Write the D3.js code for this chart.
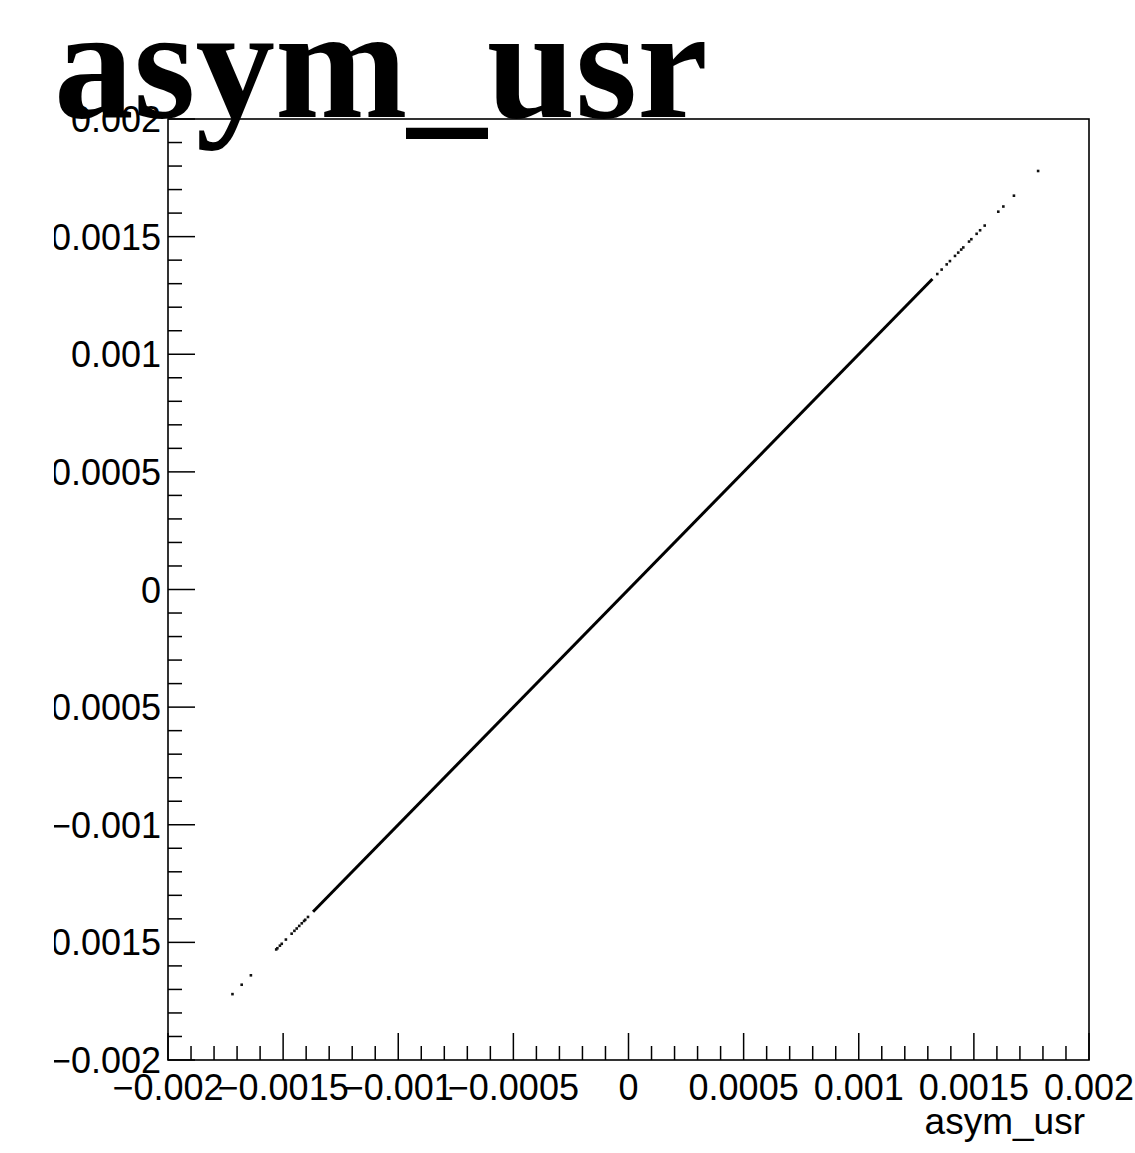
<!DOCTYPE html>
<html><head><meta charset="utf-8">
<script src="https://cdn.jsdelivr.net/npm/d3@7"></script>
<style>
html,body{margin:0;padding:0;background:#fff;}
svg{display:block;}
</style></head>
<body>
<svg id="chart" width="1135" height="1153"></svg>
<script>
// ---- data ----
const titleText = "asym_usr";
const xAxisTitle = "asym_usr";
const xDomain = [-0.002, 0.002];
const yDomain = [-0.002, 0.002];
const majorTicks = [-0.002, -0.0015, -0.001, -0.0005, 0, 0.0005, 0.001, 0.0015, 0.002];
const tickLabels = ["\u22120.002", "\u22120.0015", "\u22120.001", "\u22120.0005", "0", "0.0005", "0.001", "0.0015", "0.002"];
// dense run of events (x = y, same variable on both axes)
const denseStart = [-0.00137];
const denseEnd = [0.00132];
// isolated events in the tails
const sparseX = [-0.00172, -0.00168, -0.00164, -0.00153, -0.001525, -0.001514, -0.001506, -0.001488,
  -0.001463, -0.001451, -0.001441, -0.00143, -0.001419, -0.001409, -0.001404, -0.001392,
  0.001341, 0.00136, 0.001382, 0.001396, 0.001418, 0.001432, 0.001445, 0.001454, 0.001479,
  0.001489, 0.001512, 0.001527, 0.001547, 0.001606, 0.001628, 0.001674, 0.001779];
const sparseY = sparseX.slice();

// ---- layout ----
const svg = d3.select("#chart");
const L = 168, R = 1089, T = 119, B = 1060;
const x = d3.scaleLinear().domain(xDomain).range([L, R]);
const y = d3.scaleLinear().domain(yDomain).range([B, T]);
const minorTicks = d3.range(-20, 21).map(i => i * 0.0001).filter(v => Math.abs(Math.round(v * 10000) % 5) !== 0);

svg.append("defs").append("clipPath").attr("id", "leftclip")
  .append("rect").attr("x", 54).attr("y", 0).attr("width", 1081).attr("height", 1153);

const font = "'Liberation Sans', Arial, Helvetica, sans-serif";

// data
const g = svg.append("g");
denseStart.forEach((s, i) => {
  g.append("line")
    .attr("x1", x(s)).attr("y1", y(s))
    .attr("x2", x(denseEnd[i])).attr("y2", y(denseEnd[i]))
    .attr("stroke", "#000").attr("stroke-width", 3);
});
g.selectAll("rect.pt").data(sparseX).enter().append("rect")
  .attr("class", "pt")
  .attr("x", (d, i) => x(d) - 1.3).attr("y", (d, i) => y(sparseY[i]) - 1.3)
  .attr("width", 2.6).attr("height", 2.6).attr("fill", "#111");

// frame
svg.append("rect").attr("x", L).attr("y", T).attr("width", R - L).attr("height", B - T)
  .attr("fill", "none").attr("stroke", "#000").attr("stroke-width", 1.6);

// ticks (inside the frame)
const ax = svg.append("g").attr("stroke", "#000").attr("stroke-width", 1.5);
majorTicks.forEach(v => ax.append("line").attr("x1", x(v)).attr("x2", x(v)).attr("y1", B).attr("y2", B - 27));
minorTicks.forEach(v => ax.append("line").attr("x1", x(v)).attr("x2", x(v)).attr("y1", B).attr("y2", B - 14));
majorTicks.forEach(v => ax.append("line").attr("y1", y(v)).attr("y2", y(v)).attr("x1", L).attr("x2", L + 27));
minorTicks.forEach(v => ax.append("line").attr("y1", y(v)).attr("y2", y(v)).attr("x1", L).attr("x2", L + 14));

// x tick labels
svg.append("g").selectAll("text").data(majorTicks).enter().append("text")
  .attr("x", d => x(d)).attr("y", 1100)
  .attr("text-anchor", "middle")
  .attr("font-family", font).attr("font-size", 36)
  .text((d, i) => tickLabels[i]);

// y tick labels
svg.append("g").attr("clip-path", "url(#leftclip)").selectAll("text").data(majorTicks).enter().append("text")
  .attr("x", 161).attr("y", d => y(d) + 13)
  .attr("text-anchor", "end")
  .attr("font-family", font).attr("font-size", 36)
  .text((d, i) => tickLabels[i]);

// x axis title
svg.append("text").attr("x", 1085).attr("y", 1134).attr("text-anchor", "end")
  .attr("font-family", font).attr("font-size", 37).text(xAxisTitle);

// title
svg.append("text").attr("x", 54).attr("y", 117)
  .attr("font-family", "'Liberation Serif', 'Times New Roman', serif").attr("font-weight", "bold")
  .attr("font-size", 159).text(titleText);
</script>
</body></html>
